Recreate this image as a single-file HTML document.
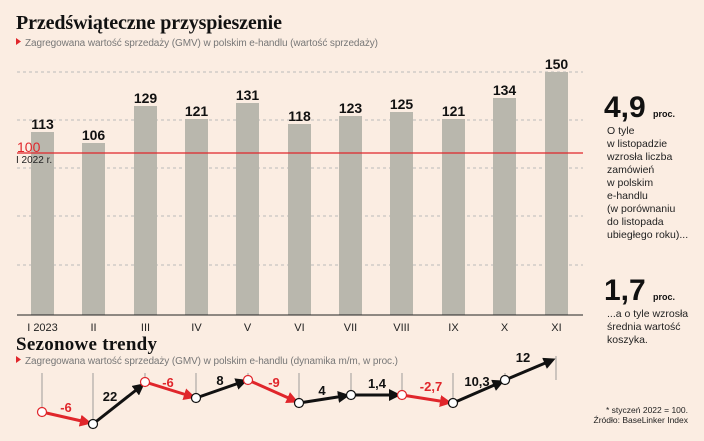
<!DOCTYPE html>
<html><head><meta charset="utf-8"><style>
body{margin:0;background:#fbede2;}
svg{display:block;font-family:"Liberation Sans",sans-serif;}
</style></head><body>
<svg width="704" height="441" viewBox="0 0 704 441" xmlns="http://www.w3.org/2000/svg">
<rect width="704" height="441" fill="#fbede2"/>
<text x="16" y="29" font-family="Liberation Serif,serif" font-weight="bold" font-size="20" fill="#111" textLength="266">Przedświąteczne przyspieszenie</text>
<polygon points="16,38 21,41.5 16,45" fill="#e0262b"/>
<text x="25" y="46" font-size="10" fill="#777" textLength="353">Zagregowana wartość sprzedaży (GMV) w polskim e-handlu (wartość sprzedaży)</text>
<g stroke="#bbb" stroke-dasharray="3,3" stroke-width="1">
<line x1="17" y1="72" x2="583" y2="72"/><line x1="17" y1="120" x2="583" y2="120"/><line x1="17" y1="168" x2="583" y2="168"/><line x1="17" y1="216" x2="583" y2="216"/><line x1="17" y1="265" x2="583" y2="265"/>
</g>
<g fill="#b9b7ad">
<rect x="31" y="132" width="23" height="183"/><rect x="82" y="143" width="23" height="172"/><rect x="134" y="106" width="23" height="209"/><rect x="185" y="119" width="23" height="196"/><rect x="236" y="103" width="23" height="212"/><rect x="288" y="124" width="23" height="191"/><rect x="339" y="116" width="23" height="199"/><rect x="390" y="112" width="23" height="203"/><rect x="442" y="119" width="23" height="196"/><rect x="493" y="98" width="23" height="217"/><rect x="545" y="72" width="23" height="243"/>
</g>
<line x1="17" y1="153" x2="583" y2="153" stroke="#e0262b" stroke-width="1.2"/>
<line x1="17" y1="315" x2="583" y2="315" stroke="#222" stroke-width="1"/>
<text x="17" y="152" font-size="14" fill="#e0262b">100</text>
<text x="16" y="163" font-size="10" fill="#222">I 2022 r.</text>
<g font-size="14" font-weight="bold" fill="#111" text-anchor="middle">
<text x="42.5" y="129">113</text><text x="93.5" y="140">106</text><text x="145.5" y="103">129</text><text x="196.5" y="116">121</text><text x="247.5" y="100">131</text><text x="299.5" y="121">118</text><text x="350.5" y="113">123</text><text x="401.5" y="109">125</text><text x="453.5" y="116">121</text><text x="504.5" y="95">134</text><text x="556.5" y="69">150</text>
</g>
<g font-size="11" fill="#222" text-anchor="middle">
<text x="42.5" y="331">I 2023</text><text x="93.5" y="331">II</text><text x="145.5" y="331">III</text><text x="196.5" y="331">IV</text><text x="247.5" y="331">V</text><text x="299.5" y="331">VI</text><text x="350.5" y="331">VII</text><text x="401.5" y="331">VIII</text><text x="453.5" y="331">IX</text><text x="504.5" y="331">X</text><text x="556.5" y="331">XI</text>
</g>
<text x="604" y="117" font-size="30" font-weight="bold" fill="#111">4,9</text>
<text x="653" y="117" font-size="9" font-weight="bold" fill="#111">proc.</text>
<g font-size="10.5" fill="#222">
<text x="607" y="134">O tyle</text><text x="607" y="147">w listopadzie</text><text x="607" y="160">wzrosła liczba</text><text x="607" y="173">zamówień</text><text x="607" y="186">w polskim</text><text x="607" y="199">e-handlu</text><text x="607" y="212">(w porównaniu</text><text x="607" y="225">do listopada</text><text x="607" y="238">ubiegłego roku)...</text>
</g>
<text x="604" y="300" font-size="30" font-weight="bold" fill="#111">1,7</text>
<text x="653" y="300" font-size="9" font-weight="bold" fill="#111">proc.</text>
<g font-size="10.5" fill="#222">
<text x="607" y="317">...a o tyle wzrosła</text><text x="607" y="330">średnia wartość</text><text x="607" y="343">koszyka.</text>
</g>
<text x="16" y="350" font-family="Liberation Serif,serif" font-weight="bold" font-size="19" fill="#111" textLength="141">Sezonowe trendy</text>
<polygon points="16,356 21,359.5 16,363" fill="#e0262b"/>
<text x="25" y="364" font-size="10" fill="#777" textLength="373">Zagregowana wartość sprzedaży (GMV) w polskim e-handlu (dynamika m/m, w proc.)</text>
<g stroke="#888" stroke-width="0.8">
<line x1="42" y1="373" x2="42" y2="412"/><line x1="93" y1="373" x2="93" y2="424"/><line x1="145" y1="373" x2="145" y2="382"/><line x1="196" y1="373" x2="196" y2="398"/><line x1="248" y1="373" x2="248" y2="380"/><line x1="299" y1="373" x2="299" y2="403"/><line x1="351" y1="373" x2="351" y2="395"/><line x1="402" y1="373" x2="402" y2="395"/><line x1="453" y1="373" x2="453" y2="403"/><line x1="505" y1="373" x2="505" y2="380"/><line x1="556" y1="356" x2="556" y2="380"/>
</g>
<defs>
<marker id="ar" markerWidth="4" markerHeight="4" refX="2" refY="2" orient="auto" markerUnits="strokeWidth"><path d="M0,0 L4,2 L0,4 z" fill="#e0262b"/></marker>
<marker id="ab" markerWidth="4" markerHeight="4" refX="2" refY="2" orient="auto" markerUnits="strokeWidth"><path d="M0,0 L4,2 L0,4 z" fill="#111"/></marker>
</defs>
<g stroke-width="3" fill="none">
<line x1="42" y1="412" x2="86" y2="422" stroke="#e0262b" marker-end="url(#ar)"/>
<line x1="93" y1="424" x2="140" y2="387" stroke="#111" marker-end="url(#ab)"/>
<line x1="145" y1="382" x2="190" y2="396" stroke="#e0262b" marker-end="url(#ar)"/>
<line x1="196" y1="398" x2="242" y2="382" stroke="#111" marker-end="url(#ab)"/>
<line x1="248" y1="380" x2="293" y2="400" stroke="#e0262b" marker-end="url(#ar)"/>
<line x1="299" y1="403" x2="344" y2="396" stroke="#111" marker-end="url(#ab)"/>
<line x1="351" y1="395" x2="395" y2="395" stroke="#111" marker-end="url(#ab)"/>
<line x1="402" y1="395" x2="446" y2="402" stroke="#e0262b" marker-end="url(#ar)"/>
<line x1="453" y1="403" x2="499" y2="383" stroke="#111" marker-end="url(#ab)"/>
<line x1="505" y1="380" x2="550" y2="361" stroke="#111" marker-end="url(#ab)"/>
</g>
<g stroke-width="1.2">
<circle cx="42" cy="412" r="4.5" fill="#fff" stroke="#e0262b"/><circle cx="93" cy="424" r="4.5" fill="#fff" stroke="#111"/><circle cx="145" cy="382" r="4.5" fill="#fff" stroke="#e0262b"/><circle cx="196" cy="398" r="4.5" fill="#fff" stroke="#111"/><circle cx="248" cy="380" r="4.5" fill="#fff" stroke="#e0262b"/><circle cx="299" cy="403" r="4.5" fill="#fff" stroke="#111"/><circle cx="351" cy="395" r="4.5" fill="#fff" stroke="#111"/><circle cx="402" cy="395" r="4.5" fill="#fff" stroke="#e0262b"/><circle cx="453" cy="403" r="4.5" fill="#fff" stroke="#111"/><circle cx="505" cy="380" r="4.5" fill="#fff" stroke="#111"/>
</g>
<g font-size="13" font-weight="bold" text-anchor="middle">
<text x="66" y="412" fill="#e0262b">-6</text><text x="110" y="401" fill="#111">22</text><text x="168" y="387" fill="#e0262b">-6</text><text x="220" y="385" fill="#111">8</text><text x="274" y="387" fill="#e0262b">-9</text><text x="322" y="395" fill="#111">4</text><text x="377" y="388" fill="#111">1,4</text><text x="431" y="391" fill="#e0262b">-2,7</text><text x="477" y="386" fill="#111">10,3</text><text x="523" y="362" fill="#111">12</text>
</g>
<text x="688" y="413" font-size="8.5" fill="#222" text-anchor="end">* styczeń 2022 = 100.</text>
<text x="688" y="423" font-size="8.5" fill="#222" text-anchor="end">Źródło: BaseLinker Index</text>
</svg>
</body></html>
